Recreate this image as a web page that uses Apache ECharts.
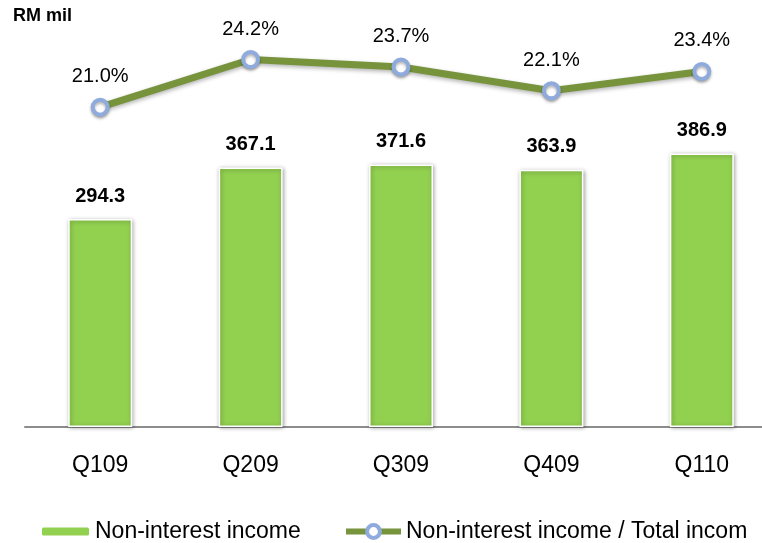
<!DOCTYPE html>
<html>
<head>
<meta charset="utf-8">
<script src="https://cdn.jsdelivr.net/npm/echarts@6/dist/echarts.min.js"></script>
<style>
  html, body { margin: 0; padding: 0; background: #fff; }
  #chart { width: 762px; height: 543px; }
</style>
</head>
<body>
<div id="chart"></div>
<script>
  var quarters = ['Q109', 'Q209', 'Q309', 'Q409', 'Q110'];
  var incomeValues = [294.3, 367.1, 371.6, 363.9, 386.9];
  var ratioValues = [21.0, 24.2, 23.7, 22.1, 23.4];

  var FONT = '"Liberation Sans", Arial, sans-serif';

  var chart = echarts.init(document.getElementById('chart'));
  chart.setOption({
    animation: false,
    textStyle: { fontFamily: FONT },
    graphic: [{
      type: 'text', left: 13, top: 7,
      style: { text: 'RM mil', font: 'bold 18px ' + FONT, fill: '#000' }
    }],
    legend: [{
      data: ['Non-interest income'],
      left: 35, top: 515,
      itemWidth: 49, itemHeight: 10,
      textStyle: { fontSize: 23, color: '#000', fontFamily: FONT }
    }, {
      data: ['Non-interest income / Total incom'],
      left: 338, top: 515,
      itemWidth: 55, itemHeight: 16,
      lineStyle: { width: 6, shadowBlur: 0 },
      itemStyle: { borderWidth: 4, shadowBlur: 0 },
      textStyle: { fontSize: 23, color: '#000', fontFamily: FONT }
    }],
    grid: { left: 25, top: 3, width: 752, height: 424, outerBoundsMode: 'none' },
    xAxis: {
      type: 'category',
      data: quarters,
      axisLine: { lineStyle: { color: '#8c8c8c', width: 2 } },
      axisTick: { show: false },
      axisLabel: { fontSize: 23, color: '#000', margin: 27, fontFamily: FONT }
    },
    yAxis: [{
      type: 'value', min: 0, max: 600, show: false,
      splitLine: { show: false }
    }, {
      type: 'value', min: -0.5, max: 28, show: false,
      splitLine: { show: false }
    }],
    series: [{
      name: 'Non-interest income',
      type: 'bar',
      data: incomeValues,
      barWidth: 64,
      itemStyle: {
        color: '#92D050',
        borderColor: '#ffffff',
        borderWidth: 1.5,
        shadowBlur: 4,
        shadowColor: 'rgba(0,0,0,0.35)',
        shadowOffsetX: 1,
        shadowOffsetY: 1
      },
      label: {
        show: true, position: 'top', distance: 13,
        fontSize: 20, fontWeight: 'bold', color: '#000', fontFamily: FONT,
        formatter: function (p) { return p.value.toFixed(1); }
      }
    }, {
      name: 'Non-interest income / Total incom',
      type: 'line',
      yAxisIndex: 1,
      data: ratioValues,
      symbol: 'circle',
      symbolSize: 15,
      lineStyle: {
        color: '#77933C', width: 7,
        shadowBlur: 4, shadowColor: 'rgba(0,0,0,0.3)', shadowOffsetY: 2
      },
      itemStyle: {
        color: '#ffffff', borderColor: '#8FAADC', borderWidth: 4,
        shadowBlur: 3, shadowColor: 'rgba(0,0,0,0.3)', shadowOffsetY: 2
      },
      label: {
        show: true, position: 'top', distance: 11,
        fontSize: 20, color: '#000', fontFamily: FONT,
        formatter: function (p) { return p.value.toFixed(1) + '%'; }
      }
    }]
  });
</script>
</body>
</html>
